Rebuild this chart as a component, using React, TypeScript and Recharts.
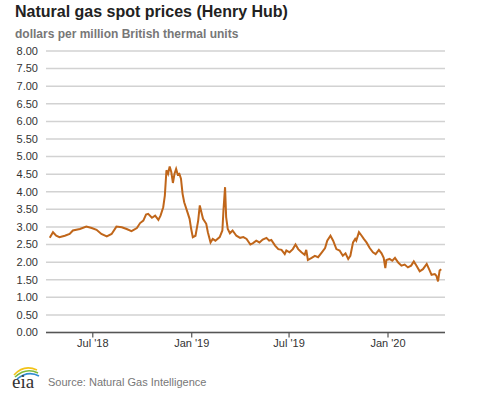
import React from 'react';
import { LineChart, Line, XAxis, YAxis, CartesianGrid } from 'recharts';

const dates: string[] = [
  '2018-04-12','2018-04-18','2018-04-24','2018-04-30','2018-05-10','2018-05-19','2018-05-25','2018-06-07','2018-06-19','2018-06-29',
  '2018-07-08','2018-07-17','2018-07-27','2018-08-05','2018-08-14','2018-08-24','2018-09-02','2018-09-11','2018-09-21','2018-09-27',
  '2018-10-03','2018-10-08','2018-10-12','2018-10-19','2018-10-25','2018-10-31','2018-11-04','2018-11-09','2018-11-12','2018-11-15',
  '2018-11-18','2018-11-21','2018-11-24','2018-11-27','2018-11-30','2018-12-03','2018-12-06','2018-12-09','2018-12-12','2018-12-15',
  '2018-12-18','2018-12-24','2018-12-28','2018-12-31','2019-01-03','2019-01-08','2019-01-13','2019-01-16','2019-01-19','2019-01-22',
  '2019-01-28','2019-01-31','2019-02-05','2019-02-09','2019-02-14','2019-02-22','2019-02-27','2019-03-01','2019-03-04','2019-03-06',
  '2019-03-09','2019-03-13','2019-03-18','2019-03-25','2019-04-01','2019-04-07','2019-04-13','2019-04-20','2019-04-25','2019-05-01',
  '2019-05-07','2019-05-13','2019-05-20','2019-05-25','2019-05-29','2019-06-05','2019-06-11','2019-06-17','2019-06-23','2019-06-26',
  '2019-07-02','2019-07-08','2019-07-13','2019-07-18','2019-07-24','2019-07-30','2019-08-02','2019-08-05','2019-08-12','2019-08-18',
  '2019-08-24','2019-08-31','2019-09-06','2019-09-10','2019-09-16','2019-09-21','2019-09-27','2019-10-03','2019-10-09','2019-10-14',
  '2019-10-19','2019-10-23','2019-10-28','2019-11-01','2019-11-03','2019-11-08','2019-11-13','2019-11-17','2019-11-22','2019-11-28',
  '2019-12-04','2019-12-09','2019-12-15','2019-12-20','2019-12-24','2019-12-27','2019-12-29','2020-01-04','2020-01-09','2020-01-14',
  '2020-01-20','2020-01-26','2020-02-01','2020-02-07','2020-02-13','2020-02-18','2020-02-23','2020-02-29','2020-03-06','2020-03-13',
  '2020-03-18','2020-03-22','2020-03-28','2020-03-31','2020-04-03','2020-04-06','2020-04-09',
];

const prices: number[] = [
  2.69,2.85,2.75,2.71,2.75,2.80,2.90,2.94,3.01,2.97,
  2.92,2.80,2.73,2.80,3.01,2.99,2.94,2.88,2.97,3.11,
  3.18,3.35,3.37,3.26,3.32,3.20,3.32,3.56,3.89,4.61,
  4.51,4.72,4.56,4.25,4.51,4.65,4.49,4.51,4.37,3.94,
  3.70,3.42,3.23,2.94,2.71,2.75,3.18,3.61,3.42,3.23,
  3.09,2.85,2.56,2.66,2.61,2.71,2.90,3.47,4.13,3.28,
  2.94,2.82,2.90,2.75,2.69,2.71,2.66,2.50,2.54,2.61,
  2.56,2.64,2.69,2.61,2.63,2.47,2.37,2.35,2.23,2.33,
  2.28,2.37,2.50,2.37,2.28,2.21,2.35,2.06,2.12,2.18,
  2.14,2.28,2.40,2.61,2.75,2.61,2.37,2.33,2.18,2.25,
  2.09,2.18,2.56,2.66,2.61,2.85,2.75,2.66,2.56,2.40,
  2.28,2.23,2.35,2.25,2.12,1.83,2.06,2.09,2.04,2.12,
  1.99,1.90,1.93,1.85,1.90,2.02,1.90,1.74,1.80,1.95,
  1.78,1.64,1.66,1.61,1.45,1.76,1.80,
];

const xTickDates: string[] = ['2018-07-01', '2019-01-01', '2019-07-01', '2020-01-01'];
const xTickLabels: string[] = ["Jul '18", "Jan '19", "Jul '19", "Jan '20"];
const yTicks: number[] = [0, 0.5, 1, 1.5, 2, 2.5, 3, 3.5, 4, 4.5, 5, 5.5, 6, 6.5, 7, 7.5, 8];
const xDomainDates: string[] = ['2018-04-05', '2020-04-16'];

const toTime = (d: string) => new Date(d + 'T00:00:00Z').getTime();
const data = dates.map((d, i) => ({ t: toTime(d), v: prices[i] }));
const xTicks = xTickDates.map(toTime);
const xDomain = xDomainDates.map(toTime) as [number, number];

const FONT = "'Liberation Sans', Arial, Helvetica, sans-serif";

export default function App() {
  return (
    <div style={{ position: 'absolute', left: 0, top: 0, width: 477, height: 393, background: '#fff' }}>
      <LineChart
        width={477}
        height={393}
        data={data}
        margin={{ top: 51, right: 32, bottom: 30.5, left: 0 }}
        style={{ fontFamily: FONT }}
      >
        <CartesianGrid vertical={false} stroke="#d2d2d2" strokeWidth={1.5} />
        <XAxis
          dataKey="t"
          type="number"
          domain={xDomain}
          allowDataOverflow
          ticks={xTicks}
          tickFormatter={(v: number) => {
            const i = xTicks.indexOf(v);
            return i >= 0 ? xTickLabels[i] : '';
          }}
          height={30}
          tickSize={5}
          tickMargin={2}
          axisLine={{ stroke: '#555', strokeWidth: 1.5 }}
          tickLine={{ stroke: '#555', strokeWidth: 1.2 }}
          tick={{ fill: '#333', fontSize: 11, fontFamily: FONT }}
        />
        <YAxis
          type="number"
          domain={[0, 8]}
          ticks={yTicks}
          interval={0}
          width={46}
          axisLine={false}
          tickLine={false}
          tickSize={6}
          tickMargin={2}
          tickFormatter={(v: number) => v.toFixed(2)}
          tick={{ fill: '#333', fontSize: 11, fontFamily: FONT }}
        />
        <Line
          type="linear"
          dataKey="v"
          stroke="#c0661a"
          strokeWidth={2}
          dot={false}
          isAnimationActive={false}
        />
      </LineChart>
      <svg
        width={477}
        height={393}
        style={{ position: 'absolute', left: 0, top: 0, pointerEvents: 'none' }}
      >
        <text x={15} y={17} fontFamily={FONT} fontSize={16} fontWeight="bold" fill="#222">
          Natural gas spot prices (Henry Hub)
        </text>
        <text x={15} y={37.5} fontFamily={FONT} fontSize={12} fontWeight="bold" fill="#777">
          dollars per million British thermal units
        </text>
        <path d="M14,375 Q24,364 37,370" fill="none" stroke="#f2c318" strokeWidth={1.6} />
        <path d="M15,377 Q26,367 38,373" fill="none" stroke="#7dba3d" strokeWidth={1.6} />
        <path d="M17,379 Q28,370 39,376" fill="none" stroke="#2f8bd1" strokeWidth={1.6} />
        <text x={12} y={388} fontFamily="'Liberation Serif', 'DejaVu Serif', serif" fontSize={19} fill="#333">
          eia
        </text>
        <text x={48} y={386} fontFamily={FONT} fontSize={11} fill="#777">
          Source: Natural Gas Intelligence
        </text>
      </svg>
    </div>
  );
}
